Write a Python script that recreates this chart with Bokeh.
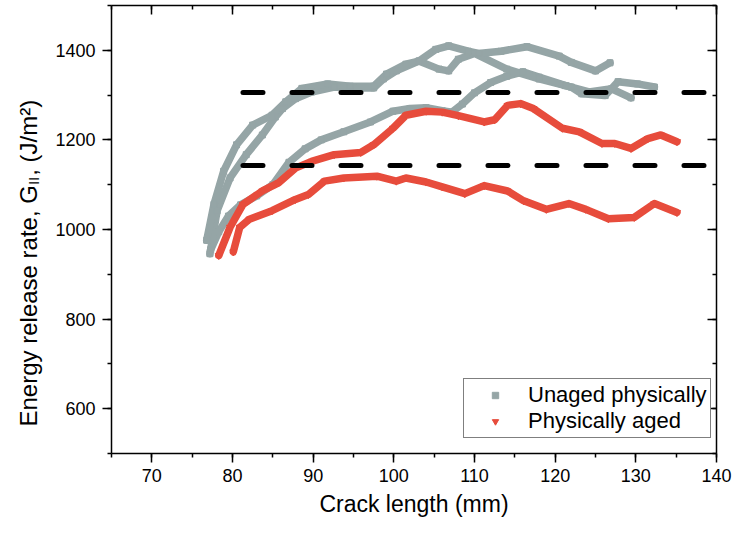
import math
from bokeh.plotting import figure
from bokeh.layouts import row
from bokeh.models import (Range1d, LinearAxis, SingleIntervalTicker, Legend,
                          LegendItem)
from bokeh.core.properties import value
from bokeh.embed import file_html
from bokeh.resources import INLINE

# ---------------- data ----------------
unaged1_x = [76.8, 77.7, 78.9, 80.5, 82.5, 84.9, 86.6, 88.6, 91.8, 94.6, 97.5, 99.1,
             101.5, 103.1, 105.2, 106.8, 109.2, 110.5, 113.3, 116.5, 120.5, 122.0,
             125.0, 126.8]
unaged1_y = [976, 1056, 1130, 1189, 1233, 1255, 1285, 1315, 1325, 1320, 1320, 1347,
             1369, 1376, 1402, 1410, 1398, 1393, 1398, 1408, 1387, 1373, 1354, 1372]

unaged2_x = [77.2, 78.1, 79.7, 81.7, 83.7, 85.3, 86.2, 87.8, 89.8, 92.6, 95.0, 97.5,
             98.7, 100.3, 103.1, 105.6, 106.8, 108.0, 110.0, 114.0, 118.0, 122.0,
             123.3, 126.2, 127.8, 130.2, 132.3]
unaged2_y = [946, 1042, 1115, 1167, 1211, 1251, 1270, 1292, 1307, 1318, 1316, 1316,
             1336, 1354, 1376, 1358, 1354, 1380, 1393, 1358, 1336, 1318, 1303, 1299,
             1330, 1325, 1318]

unaged3_x = [77.3, 78.3, 79.5, 81.0, 83.0, 85.0, 87.0, 89.0, 91.0, 93.8, 97.1, 99.9,
             102.0, 104.0, 106.0, 107.2, 108.5, 110.0, 112.0, 114.0, 116.0, 118.0,
             121.3, 124.2, 127.0, 129.4]
unaged3_y = [955, 995, 1030, 1055, 1075, 1100, 1150, 1180, 1200, 1218, 1240, 1264,
             1270, 1272, 1265, 1262, 1280, 1305, 1328, 1342, 1352, 1340, 1321, 1307,
             1314, 1294]

aged1_x = [78.3, 79.7, 81.3, 83.7, 85.7, 87.8, 89.8, 92.6, 95.9, 97.5, 99.9, 101.5,
           104.0, 106.0, 108.0, 111.2, 112.5, 114.1, 115.7, 117.3, 120.9, 123.0,
           125.8, 127.4, 129.4, 131.5, 133.1, 135.1]
aged1_y = [942, 1005, 1056, 1086, 1104, 1137, 1152, 1167, 1172, 1189, 1226, 1255,
           1264, 1262, 1254, 1240, 1245, 1277, 1281, 1270, 1226, 1218, 1192, 1192,
           1181, 1203, 1211, 1196]

aged2_x = [80.1, 80.9, 82.1, 84.9, 87.8, 89.4, 91.4, 93.8, 97.9, 100.3, 101.5, 104.0,
           106.0, 108.8, 111.2, 114.1, 116.1, 118.9, 121.7, 123.8, 126.6, 129.8,
           132.3, 135.1]
aged2_y = [950, 1005, 1023, 1042, 1067, 1078, 1108, 1115, 1119, 1108, 1115, 1106,
           1095, 1080, 1098, 1086, 1064, 1045, 1058, 1045, 1024, 1027, 1058, 1038]

mean_x = [81.3, 140.0]
mean_unaged = [1306, 1306]
mean_aged = [1143, 1143]

legend_labels = ["Unaged physically", "Physically aged"]
y_title_parts = ["Energy release rate, G", "II", ", (J/m²)"]
x_title = "Crack length (mm)"
x_tick_interval = 10
y_tick_interval = 200
Y_LO, Y_HI = 500, 1500

GRAY = "#95a5a6"
RED = "#e74c3c"
FONT = "Liberation Sans"

TITLE_W = 50          # width of the strip that holds the vertical y title
FRAME_W, FRAME_H = 605, 448
TOP_GAP = 5

# ---------------- main figure ----------------
p = figure(frame_width=FRAME_W, frame_height=FRAME_H,
           x_range=Range1d(65, 140), y_range=Range1d(Y_LO, Y_HI),
           output_backend="svg", toolbar_location=None,
           min_border_left=111 - TITLE_W, min_border_right=17, min_border_top=TOP_GAP,
           min_border_bottom=0)
p.grid.visible = False
p.outline_line_color = None
p.background_fill_color = "white"
p.border_fill_color = "white"


def style_axis(ax, labels=True, inward=False):
    ax.axis_line_width = 1.5
    ax.axis_line_color = "black"
    ax.major_tick_line_width = 1.5
    ax.minor_tick_line_width = 1.5
    ax.major_tick_line_color = "black"
    ax.minor_tick_line_color = "black"
    if inward:
        ax.major_tick_in, ax.major_tick_out = 9, 0
        ax.minor_tick_in, ax.minor_tick_out = 4, 0
    else:
        ax.major_tick_in, ax.major_tick_out = 0, 9
        ax.minor_tick_in, ax.minor_tick_out = 0, 4
    if labels:
        ax.major_label_text_font = FONT
        ax.major_label_text_font_size = "18px"
        ax.major_label_text_color = "black"
    else:
        ax.major_label_text_font_size = "0px"
        ax.major_label_standoff = 0
        ax.major_label_text_color = None


xax = p.xaxis[0]
xax.ticker = SingleIntervalTicker(interval=x_tick_interval, num_minor_ticks=2)
style_axis(xax)
xax.major_label_standoff = 6
xax.axis_label = x_title
xax.axis_label_text_font = FONT
xax.axis_label_text_font_size = "23px"
xax.axis_label_text_font_style = "normal"
xax.axis_label_text_color = "black"
xax.axis_label_standoff = 6

yax = p.yaxis[0]
yax.ticker = SingleIntervalTicker(interval=y_tick_interval, num_minor_ticks=2)
style_axis(yax)
yax.major_label_standoff = 7

top = LinearAxis(ticker=SingleIntervalTicker(interval=x_tick_interval, num_minor_ticks=2))
style_axis(top, labels=False, inward=True)
p.add_layout(top, "above")

right = LinearAxis(ticker=SingleIntervalTicker(interval=y_tick_interval, num_minor_ticks=2))
style_axis(right, labels=False, inward=True)
p.add_layout(right, "right")

# ---------------- curves ----------------
unaged_sets = [(unaged3_x, unaged3_y), (unaged2_x, unaged2_y), (unaged1_x, unaged1_y)]
aged_sets = [(aged1_x, aged1_y), (aged2_x, aged2_y)]

for xs, ys in unaged_sets:
    p.line(xs, ys, line_color=GRAY, line_width=7.5, line_join="round", line_cap="round")
r_sq = p.scatter(x=sum([s[0] for s in unaged_sets], []), y=sum([s[1] for s in unaged_sets], []),
                 marker="square", size=6, color=GRAY)

for xs, ys in aged_sets:
    p.line(xs, ys, line_color=RED, line_width=7.5, line_join="round", line_cap="round")
r_tri = p.scatter(x=sum([s[0] for s in aged_sets], []), y=sum([s[1] for s in aged_sets], []),
                  marker="inverted_triangle", size=7, color=RED)

for ys in (mean_unaged, mean_aged):
    p.line(mean_x, ys, line_color="black", line_width=5, line_dash="20 29",
           line_cap="round")

legend = Legend(items=[LegendItem(label=legend_labels[0], renderers=[r_sq]),
                       LegendItem(label=legend_labels[1], renderers=[r_tri])],
                location=(352, 15), margin=0, padding=3, spacing=0,
                glyph_width=56, glyph_height=16, label_standoff=5,
                label_text_font=FONT, label_text_font_size="22px",
                label_text_color="black",
                border_line_color="black", border_line_width=1.2,
                background_fill_alpha=1.0)
p.add_layout(legend)

# ---------------- strip with the vertical y title (real text, subscript II) ----------
# Its frame is aligned with the main frame by the row layout, so it shares the y scale.
fs_main = 24
fs_sub = 15
char_w = {"E": 667, "n": 556, "e": 556, "r": 333, "g": 556, "y": 500, " ": 278,
          "l": 222, "a": 556, "s": 500, "t": 278, ",": 278, "G": 778, "I": 278,
          "(": 333, "J": 500, "/": 278, "m": 833, "²": 333, ")": 333}


def text_w(s, fs):
    return sum(char_w.get(c, 556) for c in s) * fs / 1000.0


px_per_unit = FRAME_H / (Y_HI - Y_LO)

t = figure(frame_width=TITLE_W, frame_height=FRAME_H, x_range=Range1d(0, TITLE_W),
           y_range=Range1d(Y_LO, Y_HI), x_axis_type=None, y_axis_type=None,
           output_backend="svg", toolbar_location=None, min_border=0)
t.grid.visible = False
t.outline_line_color = None
t.background_fill_color = "white"
t.border_fill_color = "white"

base_px = 28.0                      # baseline column (pixels from the strip's left)
y1 = Y_LO + 27 / px_per_unit        # "E" starts 27 px above the frame bottom
y2 = y1 + text_w(y_title_parts[0], fs_main) / px_per_unit
y3 = y2 + (text_w(y_title_parts[1], fs_sub) + 1) / px_per_unit
common = dict(angle=math.pi / 2, text_font=value(FONT), text_color="black",
              text_align="left", text_baseline="alphabetic")
t.text(x=[base_px], y=[y1], text=[y_title_parts[0]],
       text_font_size=value(f"{fs_main}px"), **common)
t.text(x=[base_px + 5], y=[y2], text=[y_title_parts[1]],
       text_font_size=value(f"{fs_sub}px"), **common)
t.text(x=[base_px], y=[y3], text=[y_title_parts[2]],
       text_font_size=value(f"{fs_main}px"), **common)

layout = row(t, p)
open("out.html", "w").write(file_html(layout, INLINE))
